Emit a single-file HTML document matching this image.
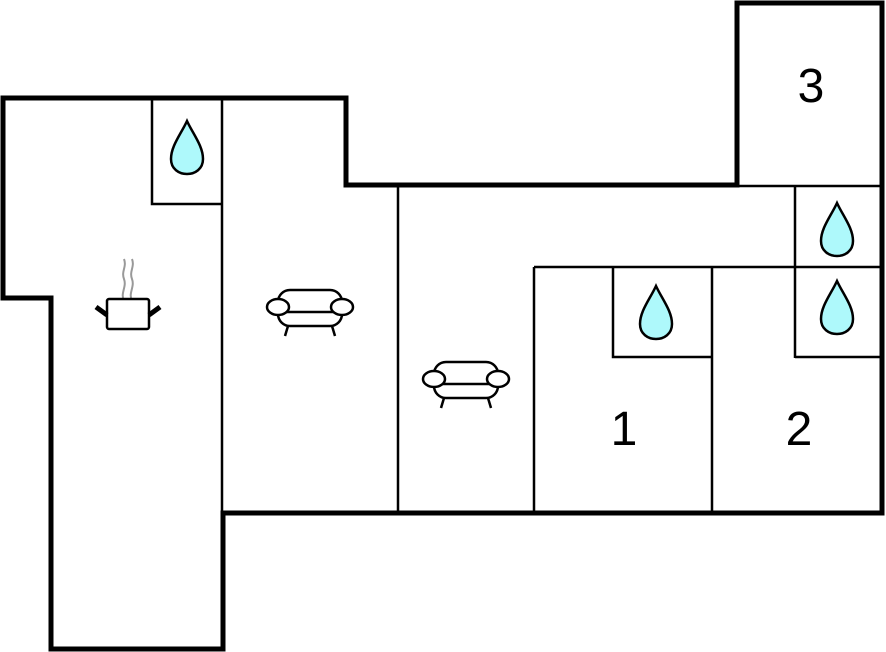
<!DOCTYPE html>
<html><head><style>html,body{margin:0;padding:0;background:#fff}svg{display:block}</style></head>
<body>
<svg width="886" height="652" viewBox="0 0 886 652" xmlns="http://www.w3.org/2000/svg">
<defs>
<g id="drop"><path d="M0,-27 C6,-14 16,-2 16,11 C16,21 8,26 0,26 C-8,26 -16,21 -16,11 C-16,-2 -6,-14 0,-27 Z" fill="#aef9fb" stroke="#000" stroke-width="2.5"/></g>
<g id="sofa" fill="#fff" stroke="#000" stroke-width="2.5">
<line x1="-22" y1="14" x2="-25" y2="24"/><line x1="22" y1="14" x2="25" y2="24"/>
<rect x="-32" y="-22" width="64" height="36" rx="12"/>
<line x1="-32" y1="0" x2="32" y2="0"/>
<ellipse cx="-32" cy="-5" rx="11" ry="8"/><ellipse cx="32" cy="-5" rx="11" ry="8"/>
</g>
</defs>
<g fill="none" stroke="#000" stroke-width="2.5">
<path d="M152,98 V204 H222"/>
<line x1="222" y1="98" x2="222" y2="513"/>
<line x1="398" y1="185" x2="398" y2="513"/>
<line x1="737" y1="186" x2="882" y2="186"/>
<line x1="795" y1="186" x2="795" y2="358"/>
<line x1="534" y1="267" x2="882" y2="267"/>
<line x1="534" y1="267" x2="534" y2="513"/>
<line x1="712" y1="267" x2="712" y2="513"/>
<path d="M613,267 V357 H712"/>
<line x1="795" y1="357" x2="882" y2="357"/>
</g>
<path d="M3,98 H346 V185 H737 V3 H882 V513 H223 V649 H51 V298 H3 Z" fill="none" stroke="#000" stroke-width="5"/>
<use href="#drop" x="187" y="148"/>
<use href="#drop" x="837" y="230"/>
<use href="#drop" x="656" y="313"/>
<use href="#drop" x="837" y="308"/>
<use href="#sofa" x="310" y="312"/>
<use href="#sofa" x="466" y="384"/>
<g transform="translate(128,313)">
<path d="M-4,-12 C-8,-20 -1,-26 -4,-34 C-7,-42 -1,-46 -4,-54 M4,-12 C0,-20 7,-26 4,-34 C1,-42 7,-46 4,-54" fill="none" stroke="#999" stroke-width="2"/>
<rect x="-21" y="-14" width="42" height="30" rx="2" fill="#fff" stroke="#000" stroke-width="2.5"/>
<line x1="-21" y1="2" x2="-32" y2="-6" stroke="#000" stroke-width="5"/>
<line x1="21" y1="2" x2="32" y2="-6" stroke="#000" stroke-width="5"/>
</g>
<g font-family="Liberation Sans, sans-serif" font-size="48" text-anchor="middle">
<text x="624" y="445">1</text>
<text x="799" y="445">2</text>
<text x="811" y="102">3</text>
</g>
</svg>
</body></html>
